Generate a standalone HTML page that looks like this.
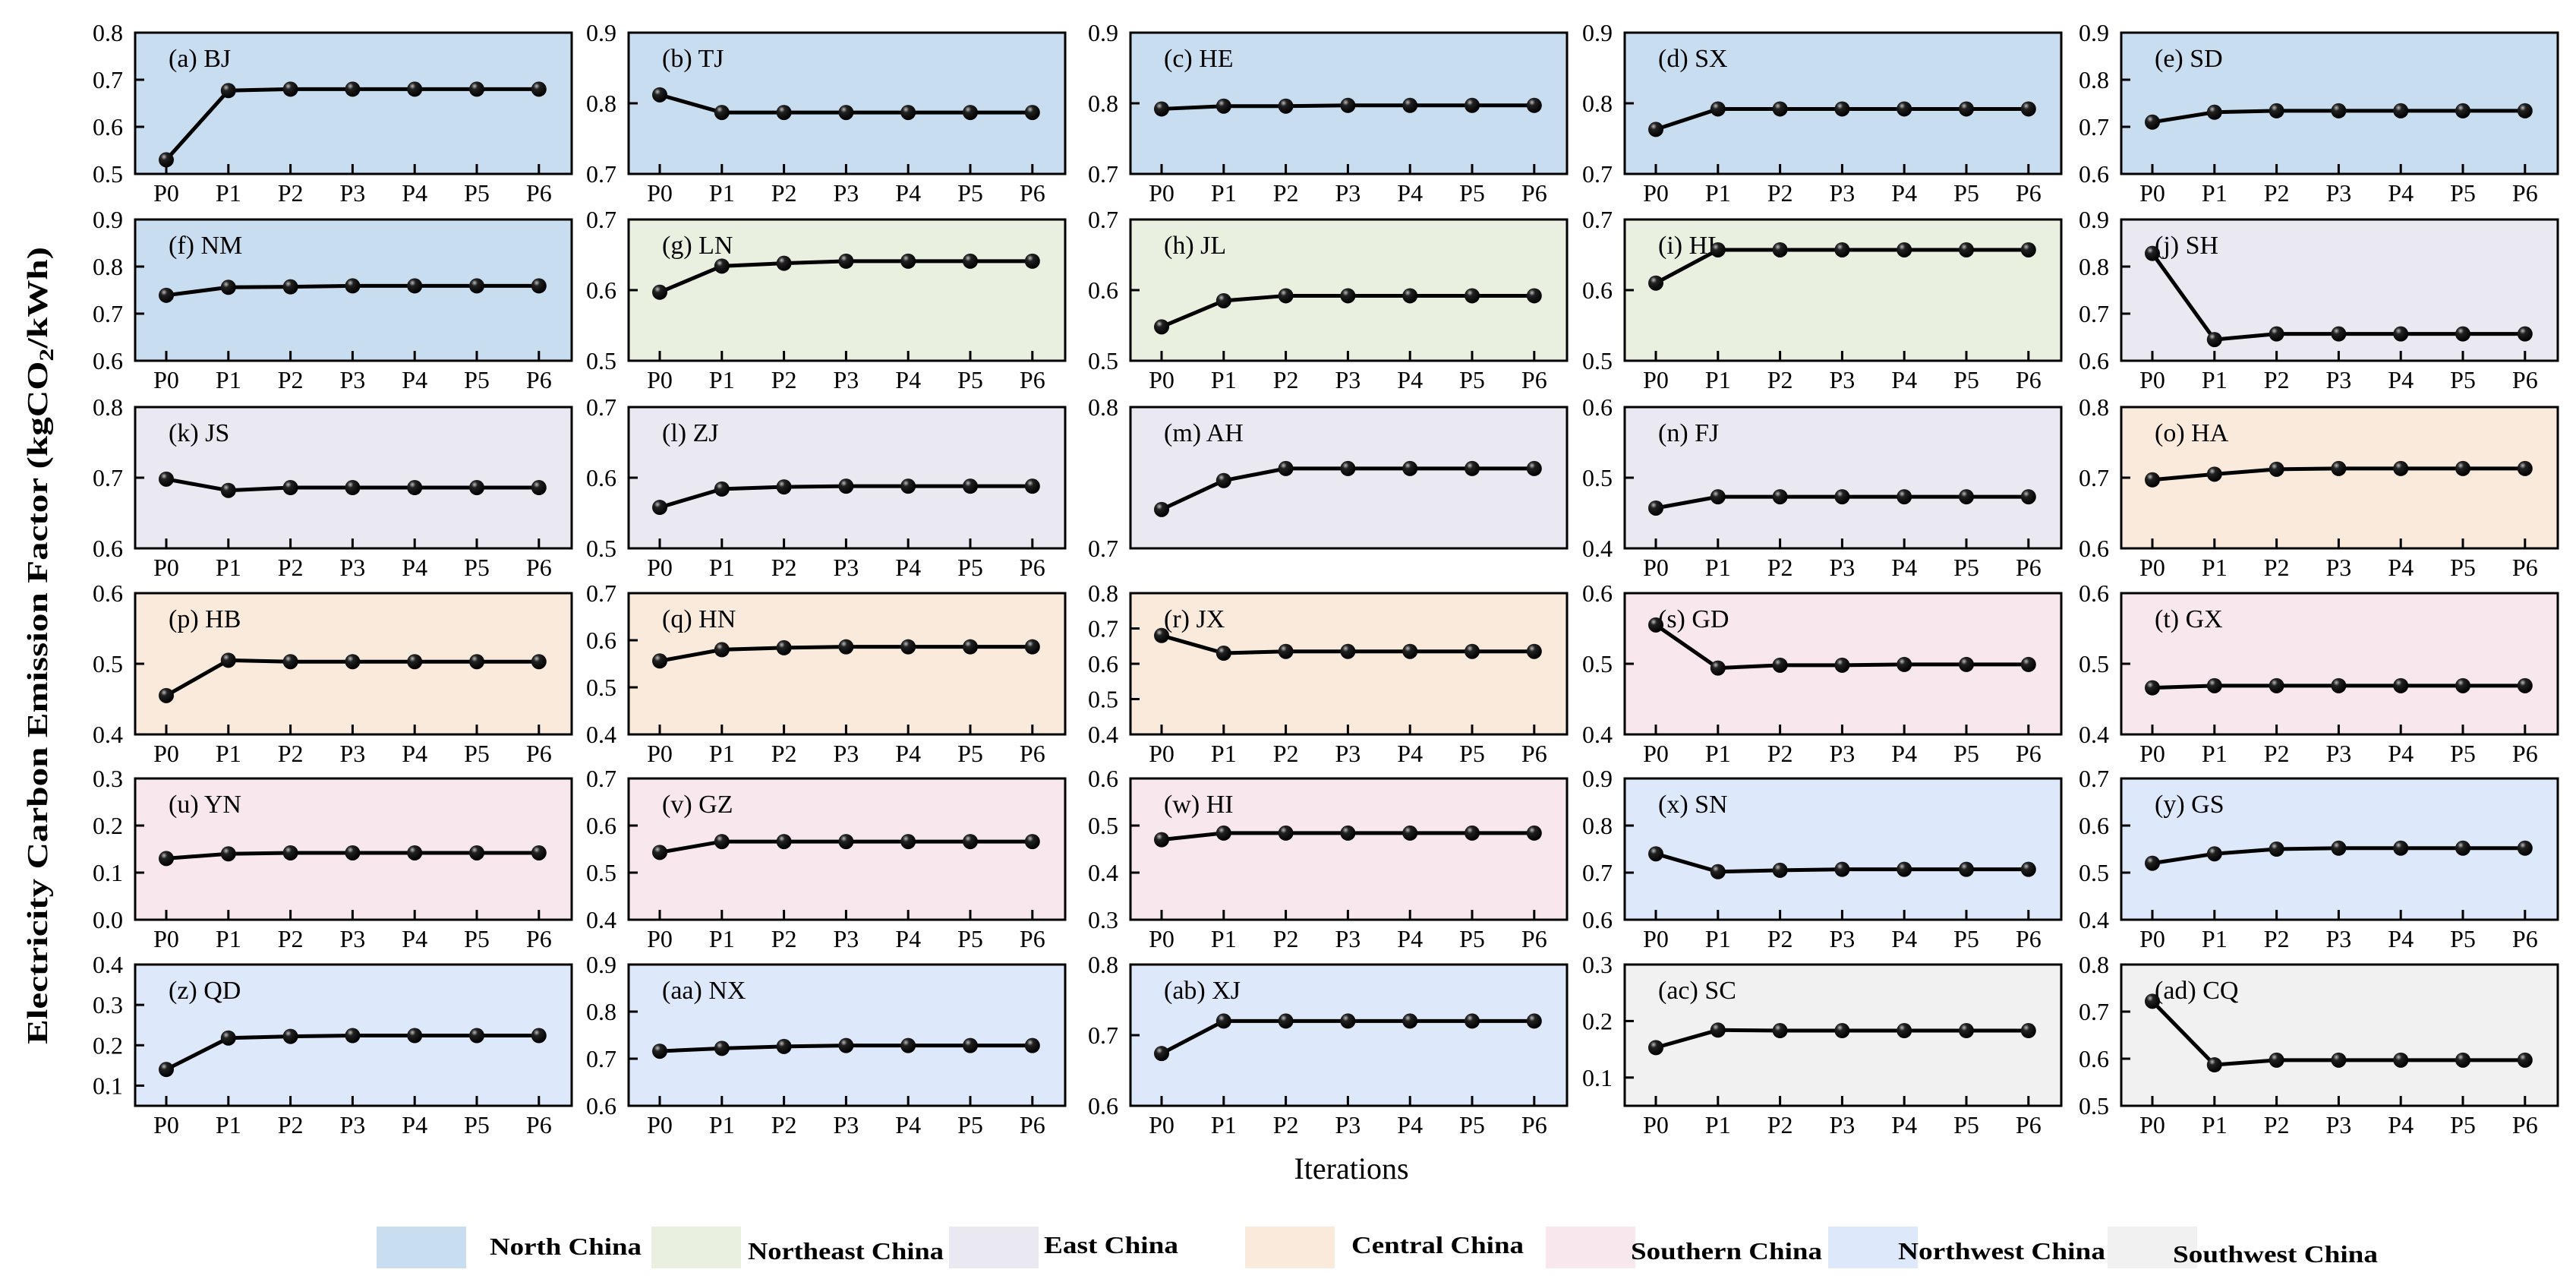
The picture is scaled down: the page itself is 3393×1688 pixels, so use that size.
<!DOCTYPE html>
<html><head><meta charset="utf-8"><style>
html,body{margin:0;padding:0;background:#fff;}
svg{display:block;font-family:"Liberation Serif",serif;}
</style></head><body>
<svg id="fig" width="3393" height="1688" viewBox="0 0 3393 1688" xmlns="http://www.w3.org/2000/svg">
<rect x="0" y="0" width="3393" height="1688" fill="#fff"/>
<text transform="translate(62,850) rotate(-90)" text-anchor="middle" font-size="38" font-weight="bold" textLength="1050" lengthAdjust="spacingAndGlyphs">Electricity Carbon Emission Factor (kgCO<tspan font-size="26" dy="8">2</tspan><tspan dy="-8">/kWh)</tspan></text>
<text x="1780" y="1552" text-anchor="middle" font-size="40">Iterations</text>
</svg>
<script>
const iterations = ["P0","P1","P2","P3","P4","P5","P6"];
const panelLabels = ["(a) BJ","(b) TJ","(c) HE","(d) SX","(e) SD","(f) NM","(g) LN","(h) JL","(i) HL","(j) SH","(k) JS","(l) ZJ","(m) AH","(n) FJ","(o) HA","(p) HB","(q) HN","(r) JX","(s) GD","(t) GX","(u) YN","(v) GZ","(w) HI","(x) SN","(y) GS","(z) QD","(aa) NX","(ab) XJ","(ac) SC","(ad) CQ"];
const panelRegions = ["N","N","N","N","N","N","NE","NE","NE","E","E","E","E","E","C","C","C","C","S","S","S","S","S","NW","NW","NW","NW","NW","SW","SW"];
const yMin = [0.5,0.7,0.7,0.7,0.6,0.6,0.5,0.5,0.5,0.6,0.6,0.5,0.7,0.4,0.6,0.4,0.4,0.4,0.4,0.4,0.0,0.4,0.3,0.6,0.4,0.05,0.6,0.6,0.05,0.5];
const yMax = [0.8,0.9,0.9,0.9,0.9,0.9,0.7,0.7,0.7,0.9,0.8,0.7,0.8,0.6,0.8,0.6,0.7,0.8,0.6,0.6,0.3,0.7,0.6,0.9,0.7,0.4,0.9,0.8,0.3,0.8];
const series = [
 [0.530,0.677,0.680,0.680,0.680,0.680,0.680],
 [0.812,0.787,0.787,0.787,0.787,0.787,0.787],
 [0.792,0.796,0.796,0.797,0.797,0.797,0.797],
 [0.763,0.792,0.792,0.792,0.792,0.792,0.792],
 [0.710,0.731,0.734,0.734,0.734,0.734,0.734],
 [0.739,0.756,0.757,0.759,0.759,0.759,0.759],
 [0.597,0.634,0.638,0.641,0.641,0.641,0.641],
 [0.548,0.585,0.592,0.592,0.592,0.592,0.592],
 [0.610,0.657,0.657,0.657,0.657,0.657,0.657],
 [0.828,0.645,0.657,0.657,0.657,0.657,0.657],
 [0.698,0.682,0.686,0.686,0.686,0.686,0.686],
 [0.558,0.584,0.587,0.588,0.588,0.588,0.588],
 [0.7275,0.748,0.7565,0.7565,0.7565,0.7565,0.7565],
 [0.457,0.473,0.473,0.473,0.473,0.473,0.473],
 [0.697,0.705,0.712,0.713,0.713,0.713,0.713],
 [0.455,0.505,0.503,0.503,0.503,0.503,0.503],
 [0.556,0.580,0.584,0.586,0.586,0.586,0.586],
 [0.680,0.630,0.635,0.635,0.635,0.635,0.635],
 [0.555,0.494,0.498,0.498,0.499,0.499,0.499],
 [0.466,0.469,0.469,0.469,0.469,0.469,0.469],
 [0.130,0.140,0.142,0.142,0.142,0.142,0.142],
 [0.543,0.566,0.566,0.566,0.566,0.566,0.566],
 [0.470,0.484,0.484,0.484,0.484,0.484,0.484],
 [0.740,0.702,0.705,0.707,0.707,0.707,0.707],
 [0.520,0.540,0.550,0.552,0.552,0.552,0.552],
 [0.140,0.218,0.222,0.224,0.224,0.224,0.224],
 [0.716,0.722,0.726,0.728,0.728,0.728,0.728],
 [0.674,0.720,0.720,0.720,0.720,0.720,0.720],
 [0.153,0.184,0.183,0.183,0.183,0.183,0.183],
 [0.722,0.587,0.597,0.597,0.597,0.597,0.597]
];
const legendNames = ["North China","Northeast China","East China","Central China","Southern China","Northwest China","Southwest China"];
const legendKeys = ["N","NE","E","C","S","NW","SW"];

const colors = {N:"#c9ddf1",NE:"#e9f0e0",E:"#eae8f0",C:"#faeadb",S:"#f8e8ee",NW:"#dde8fb",SW:"#f1f1f1"};
const colLeft = [178,828,1489,2140,2794], rowTop = [43,289,536,781,1025,1270];
const PW = 575, PH = 186;
const NS = "http://www.w3.org/2000/svg";
const svg = document.getElementById("fig");
function mk(tag, attrs, parent){const e=document.createElementNS(NS,tag);for(const k in attrs)e.setAttribute(k,attrs[k]);(parent||svg).appendChild(e);return e;}
const defs = mk("defs",{});
const grad = mk("radialGradient",{id:"mg",cx:"0.35",cy:"0.3",r:"0.7"},defs);
mk("stop",{offset:"0","stop-color":"#bbb"},grad);
mk("stop",{offset:"0.3","stop-color":"#222"},grad);
mk("stop",{offset:"1","stop-color":"#000"},grad);

series.forEach((vals, i) => {
  const L = colLeft[i%5], T = rowTop[Math.floor(i/5)];
  const g = mk("g",{});
  
  
  const lo = yMin[i], hi = yMax[i];
  const ys = v => T + PH - (v-lo)/(hi-lo)*PH;
  const xs = k => L + 41 + k*81.8;
  const bg = mk("rect",{x:L,y:T,width:PW,height:PH,fill:colors[panelRegions[i]],stroke:"#000","stroke-width":3},g);
  
  
  const start = Math.ceil(lo*10-1e-6);
  for (let t = start; t <= Math.round(hi*10); t++) {
    const v = t/10, y = ys(v);
    if (y > T+1 && y < T+PH-1) mk("line",{x1:L,x2:L+12,y1:y,y2:y,stroke:"#000","stroke-width":3},g);
    const lab = mk("text",{x:L-16,y:y+11,"text-anchor":"end","font-size":32},g);
    
    
    lab.textContent = v.toFixed(1);
  }
  if (i !== 12) {
    iterations.forEach((p,k) => {
      mk("line",{x1:xs(k),x2:xs(k),y1:T+PH,y2:T+PH-13,stroke:"#000","stroke-width":3},g);
      const lab = mk("text",{x:xs(k),y:T+PH+36,"text-anchor":"middle","font-size":32},g);
      
      
      lab.textContent = p;
    });
  }
  const pl = mk("text",{x:L+44,y:T+45,"font-size":34},g);
  
  
  pl.textContent = panelLabels[i];
  const line = mk("polyline",{points:vals.map((v,k)=>xs(k)+","+ys(v)).join(" "),fill:"none",stroke:"#000","stroke-width":5},g);
  
  
  vals.forEach((v,k) => {
    const c = mk("circle",{cx:xs(k),cy:ys(v),r:10,fill:"url(#mg)"},g);
    
    
  });
});

const swX = [496,858,1250,1640,2036,2408,2776];
const txX = [645,985,1375,1780,2148,2500,2862];
const txW = [200,258,177,227,252,273,270];
const txY = [1652,1658,1650,1650,1658,1658,1662];
legendNames.forEach((n,i) => {
  const g = mk("g",{});
  
  
  mk("rect",{x:swX[i],y:1615,width:118,height:55,fill:colors[legendKeys[i]]},g);
  const t = mk("text",{x:txX[i],y:txY[i],"font-size":32,"font-weight":"bold",textLength:txW[i],lengthAdjust:"spacingAndGlyphs"},g);
  t.textContent = n;
});
</script>
</body></html>
